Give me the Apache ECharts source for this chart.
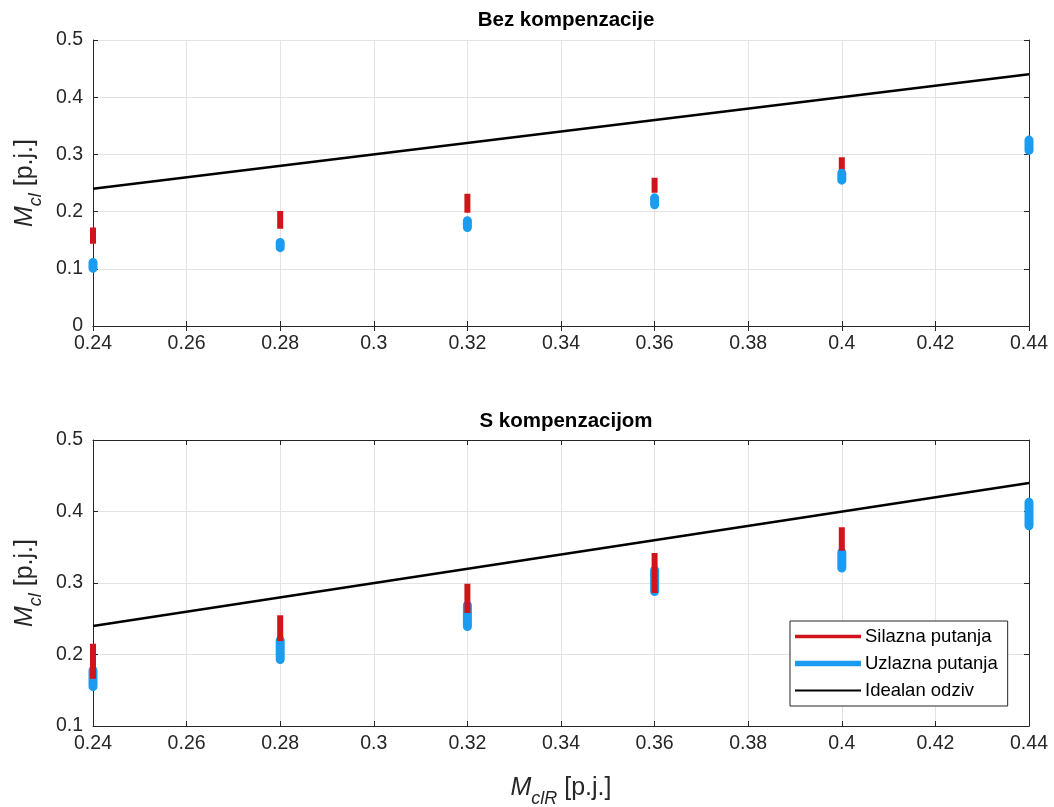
<!DOCTYPE html>
<html><head><meta charset="utf-8">
<script src="https://cdn.jsdelivr.net/npm/echarts@6/dist/echarts.min.js"></script>
<style>html,body{margin:0;padding:0;background:#fff}#c{width:1054px;height:807px}</style>
</head><body><div id="c"></div>
<script>
// ---- data ----
const xValues = [0.24, 0.28, 0.32, 0.36, 0.40, 0.44];
const topTitle = 'Bez kompenzacije';
const bottomTitle = 'S kompenzacijom';
const seriesNames = ['Silazna putanja', 'Uzlazna putanja', 'Idealan odziv'];
// top plot (without compensation): min / max of each vertical trace (null = not visible)
const topRedLow   = [0.144, 0.170, 0.198, 0.233, 0.271, null];
const topRedHigh  = [0.172, 0.201, 0.231, 0.259, 0.295, null];
const topBlueLow  = [0.101, 0.137, 0.172, 0.212, 0.255, 0.307];
const topBlueHigh = [0.111, 0.146, 0.184, 0.224, 0.267, 0.325];
// bottom plot (with compensation)
const botRedLow   = [0.166, 0.219, 0.258, 0.286, 0.345, null];
const botRedHigh  = [0.215, 0.255, 0.299, 0.342, 0.378, null];
const botBlueLow  = [0.155, 0.193, 0.239, 0.288, 0.321, 0.380];
const botBlueHigh = [0.178, 0.220, 0.269, 0.318, 0.343, 0.413];
// ideal response y = x
const idealX = [0.24, 0.44];
const idealY = [0.24, 0.44];
// tick settings
const xMin = 0.24, xMax = 0.44, xStep = 0.02;
const topYMin = 0, topYMax = 0.5, botYMin = 0.1, botYMax = 0.5, yStep = 0.1;

// ---- build ----
const FONT = "'Liberation Sans', Arial, Helvetica, sans-serif";
const AX = '#262626';
const RED = '#d0141a', BLUE = '#1b9cf0';
const TICK_FS = 19.5, NAME_FS = 25;
function segs(lo, hi) {
  const d = [];
  xValues.forEach((x, i) => {
    if (lo[i] == null || hi[i] == null) return;
    d.push([x, lo[i]], [x, hi[i]], [x, '-']);
  });
  return d;
}
function fmt(v) { return String(+v.toFixed(2)); }
const gridDefs = [
  { left: 93, right: 25, top: 40, height: 286, outerBoundsMode: 'none', containLabel: false },
  { left: 93, right: 25, top: 440, height: 286, outerBoundsMode: 'none', containLabel: false }
];
function richName(fs) {
  return {
    i: { fontStyle: 'italic', fontSize: fs, fontFamily: FONT, color: AX, lineHeight: 30, verticalAlign: 'bottom' },
    s: { fontStyle: 'italic', fontSize: Math.round(fs * 0.72), fontFamily: FONT, color: AX, lineHeight: 30, verticalAlign: 'bottom', padding: [0, 0, -7, 0] },
    n: { fontSize: fs, fontFamily: FONT, color: AX, lineHeight: 30, verticalAlign: 'bottom' }
  };
}
const xAxes = [], yAxes = [];
gridDefs.forEach((g, gi) => {
  const common = {
    gridIndex: gi, type: 'value', min: xMin, max: xMax, interval: xStep,
    axisLine: { show: true, lineStyle: { color: AX, width: 1 } },
    axisTick: { show: true, inside: true, length: 5, lineStyle: { color: AX } }
  };
  xAxes.push(Object.assign({}, common, {
    position: 'bottom',
    axisLabel: { formatter: fmt, color: AX, fontSize: TICK_FS, fontFamily: FONT, margin: 8, hideOverlap: false },
    splitLine: { show: true, lineStyle: { color: '#e3e3e3', width: 1 } },
    name: gi === 1 ? '{i|M}{s|clR}{n| [p.j.]}' : '',
    nameLocation: 'middle', nameGap: 45,
    nameTextStyle: { color: AX, fontFamily: FONT, fontSize: NAME_FS, rich: richName(NAME_FS) }
  }));
  xAxes.push(Object.assign({}, common, {
    position: 'top', axisLabel: { show: false }, splitLine: { show: false }
  }));
  const ymin = gi === 0 ? topYMin : botYMin, ymax = gi === 0 ? topYMax : botYMax;
  const yc = {
    gridIndex: gi, type: 'value', min: ymin, max: ymax, interval: yStep,
    axisLine: { show: true, lineStyle: { color: AX, width: 1 } },
    axisTick: { show: true, inside: true, length: 5, lineStyle: { color: AX } }
  };
  yAxes.push(Object.assign({}, yc, {
    position: 'left',
    axisLabel: { formatter: fmt, color: AX, fontSize: TICK_FS, fontFamily: FONT, margin: 10 },
    splitLine: { show: true, lineStyle: { color: '#e3e3e3', width: 1 } },
    name: '{i|M}{s|cl}{n| [p.j.]}', nameLocation: 'middle', nameGap: 50, nameRotate: 90,
    nameTextStyle: { color: AX, fontFamily: FONT, fontSize: NAME_FS, rich: richName(NAME_FS) }
  }));
  yAxes.push(Object.assign({}, yc, {
    position: 'right', axisLabel: { show: false }, splitLine: { show: false }
  }));
});
function seg(name, gi, data, color, width, cap, z) {
  return { name, type: 'line', xAxisIndex: gi * 2, yAxisIndex: gi * 2, data,
    showSymbol: false, symbol: 'none', connectNulls: false, silent: true, animation: false, z,
    lineStyle: { color, width, cap }, itemStyle: { color } };
}
const series = [
  seg(seriesNames[0], 0, segs(topRedLow, topRedHigh), RED, 6, 'butt', 3),
  seg(seriesNames[1], 0, segs(topBlueLow, topBlueHigh), BLUE, 9, 'round', 4),
  seg(seriesNames[2], 0, idealX.map((x, i) => [x, idealY[i]]), '#000', 2.5, 'butt', 5),
  seg(seriesNames[1], 1, segs(botBlueLow, botBlueHigh), BLUE, 9, 'round', 3),
  seg(seriesNames[0], 1, segs(botRedLow, botRedHigh), RED, 6, 'butt', 4),
  seg(seriesNames[2], 1, idealX.map((x, i) => [x, idealY[i]]), '#000', 2.5, 'butt', 5)
];
const chart = echarts.init(document.getElementById('c'), null, { renderer: 'canvas' });
chart.setOption({
  animation: false,
  backgroundColor: '#fff',
  title: [
    { text: topTitle, left: 561, top: 5, textAlign: 'center',
      textStyle: { fontFamily: FONT, fontSize: 20.5, fontWeight: 'bold', color: '#000' } },
    { text: bottomTitle, left: 561, top: 406, textAlign: 'center',
      textStyle: { fontFamily: FONT, fontSize: 20.5, fontWeight: 'bold', color: '#000' } }
  ],
  grid: gridDefs,
  xAxis: xAxes,
  yAxis: yAxes,
  legend: {
    data: [
      { name: seriesNames[0], icon: 'path://M0,0H66V3.5H0Z' },
      { name: seriesNames[1], icon: 'path://M0,0H66V5.5H0Z' },
      { name: seriesNames[2], icon: 'path://M0,0H66V2H0Z' }
    ],
    orient: 'vertical', left: 790, top: 621,
    itemWidth: 66, itemHeight: 8, itemGap: 8,
    backgroundColor: '#fff', borderColor: AX, borderWidth: 1, borderRadius: 0,
    padding: [6, 10, 6, 5], selectedMode: false,
    textStyle: { fontFamily: FONT, fontSize: 18.5, color: '#000', padding: [0, 0, 0, -1] }
  },
  series
});
</script></body></html>
